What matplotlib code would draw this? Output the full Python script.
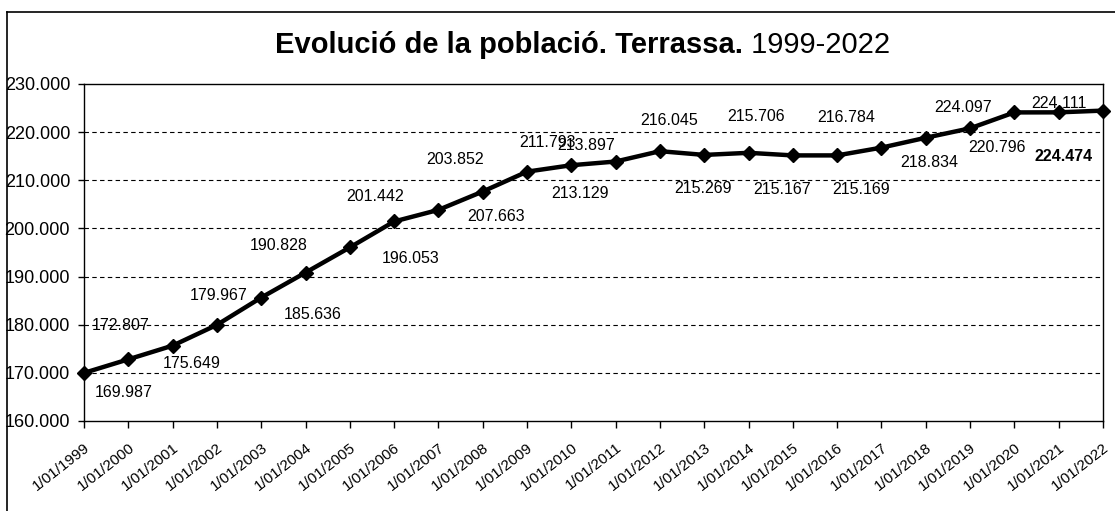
import matplotlib
matplotlib.use("Agg")
import matplotlib.pyplot as plt
from matplotlib.ticker import FuncFormatter, FixedLocator
from matplotlib.lines import Line2D

plt.rcParams['font.family'] = ['Liberation Sans', 'DejaVu Sans']

# ---- data ----
years = list(range(1999, 2023))
tick_labels = [f"1/01/{y}" for y in years]
population = [169987, 172807, 175649, 179967, 185636, 190828, 196053, 201442,
              203852, 207663, 211793, 213129, 213897, 216045, 215269, 215706,
              215167, 215169, 216784, 218834, 220796, 224097, 224111, 224474]
value_labels = ["169.987", "172.807", "175.649", "179.967", "185.636", "190.828",
                "196.053", "201.442", "203.852", "207.663", "211.793", "213.129",
                "213.897", "216.045", "215.269", "215.706", "215.167", "215.169",
                "216.784", "218.834", "220.796", "224.097", "224.111", "224.474"]
y_ticks = [160000, 170000, 180000, 190000, 200000, 210000, 220000, 230000]

# label offsets (pixels, x right / y down as seen in the picture)
label_offsets = [(40, 20), (-8, -34), (19, 18), (2, -29), (51, 17), (-27, -27),
                 (61, 11), (-19, -25), (17, -50), (13, 25), (20, -29), (9, 28),
                 (-30, -16), (9, -31), (-1, 34), (7, -36), (-11, 34), (24, 34),
                 (-35, -30), (3, 25), (27, 19), (-51, -5), (0, -9), (-39, 46)]

W, H = 1115, 511
fig = plt.figure(figsize=(W / 100, H / 100), dpi=100)
ax = fig.add_axes([84 / W, 1 - 421 / H, (1103 - 84) / W, (421 - 84) / H])

x = list(range(len(years)))
ax.plot(x, population, color='black', lw=3.2, marker='D', ms=7, zorder=3,
        clip_on=False)

ax.set_xlim(0, len(years) - 1)
ax.set_ylim(160000, 230000)
ax.yaxis.set_major_locator(FixedLocator(y_ticks))
ax.yaxis.set_major_formatter(FuncFormatter(lambda v, p: f"{int(v):,}".replace(",", ".")))
ax.set_xticks(x)
ax.set_xticklabels(tick_labels, rotation=38, ha='right', va='top',
                   rotation_mode='anchor', fontsize=11)
ax.tick_params(axis='y', labelsize=13, length=4, width=1, pad=6, direction='out')
ax.tick_params(axis='x', length=5, width=1, pad=9, direction='out')

for yv in y_ticks[1:-1]:
    ax.axhline(yv, color='black', lw=0.8, ls=(0, (4, 3)), zorder=1)
for s in ax.spines.values():
    s.set_color('black')
    s.set_linewidth(1.0)

for i, (v, lab) in enumerate(zip(population, value_labels)):
    dx, dy = label_offsets[i]
    ax.annotate(lab, (i, v), xytext=(dx, -dy), textcoords='offset pixels',
                ha='center', va='center', fontsize=11.5,
                fontweight='bold' if i == len(population) - 1 else 'normal',
                zorder=4)

# title (bold part + normal part)
t1 = fig.text(0, 1 - 45 / H, "Evolució de la població. Terrassa.", fontsize=21,
              fontweight='bold', ha='left', va='center')
t2 = fig.text(0, 1 - 45 / H, " 1999-2022", fontsize=21, ha='left', va='center')
fig.canvas.draw()
r = fig.canvas.get_renderer()
w1 = t1.get_window_extent(r).width
w2 = t2.get_window_extent(r).width
start = 583 - (w1 + w2) / 2
t1.set_x(start / W)
t2.set_x((start + w1) / W)

# outer chart border (clipped at right and bottom)
fig.add_artist(Line2D([7 / W, 7 / W], [0, 1 - 12 / H], color='black', lw=1.2,
                      transform=fig.transFigure))
fig.add_artist(Line2D([7 / W, 1], [1 - 12 / H, 1 - 12 / H], color='black', lw=1.2,
                      transform=fig.transFigure))

fig.savefig("out.png", dpi=100, facecolor='white')
